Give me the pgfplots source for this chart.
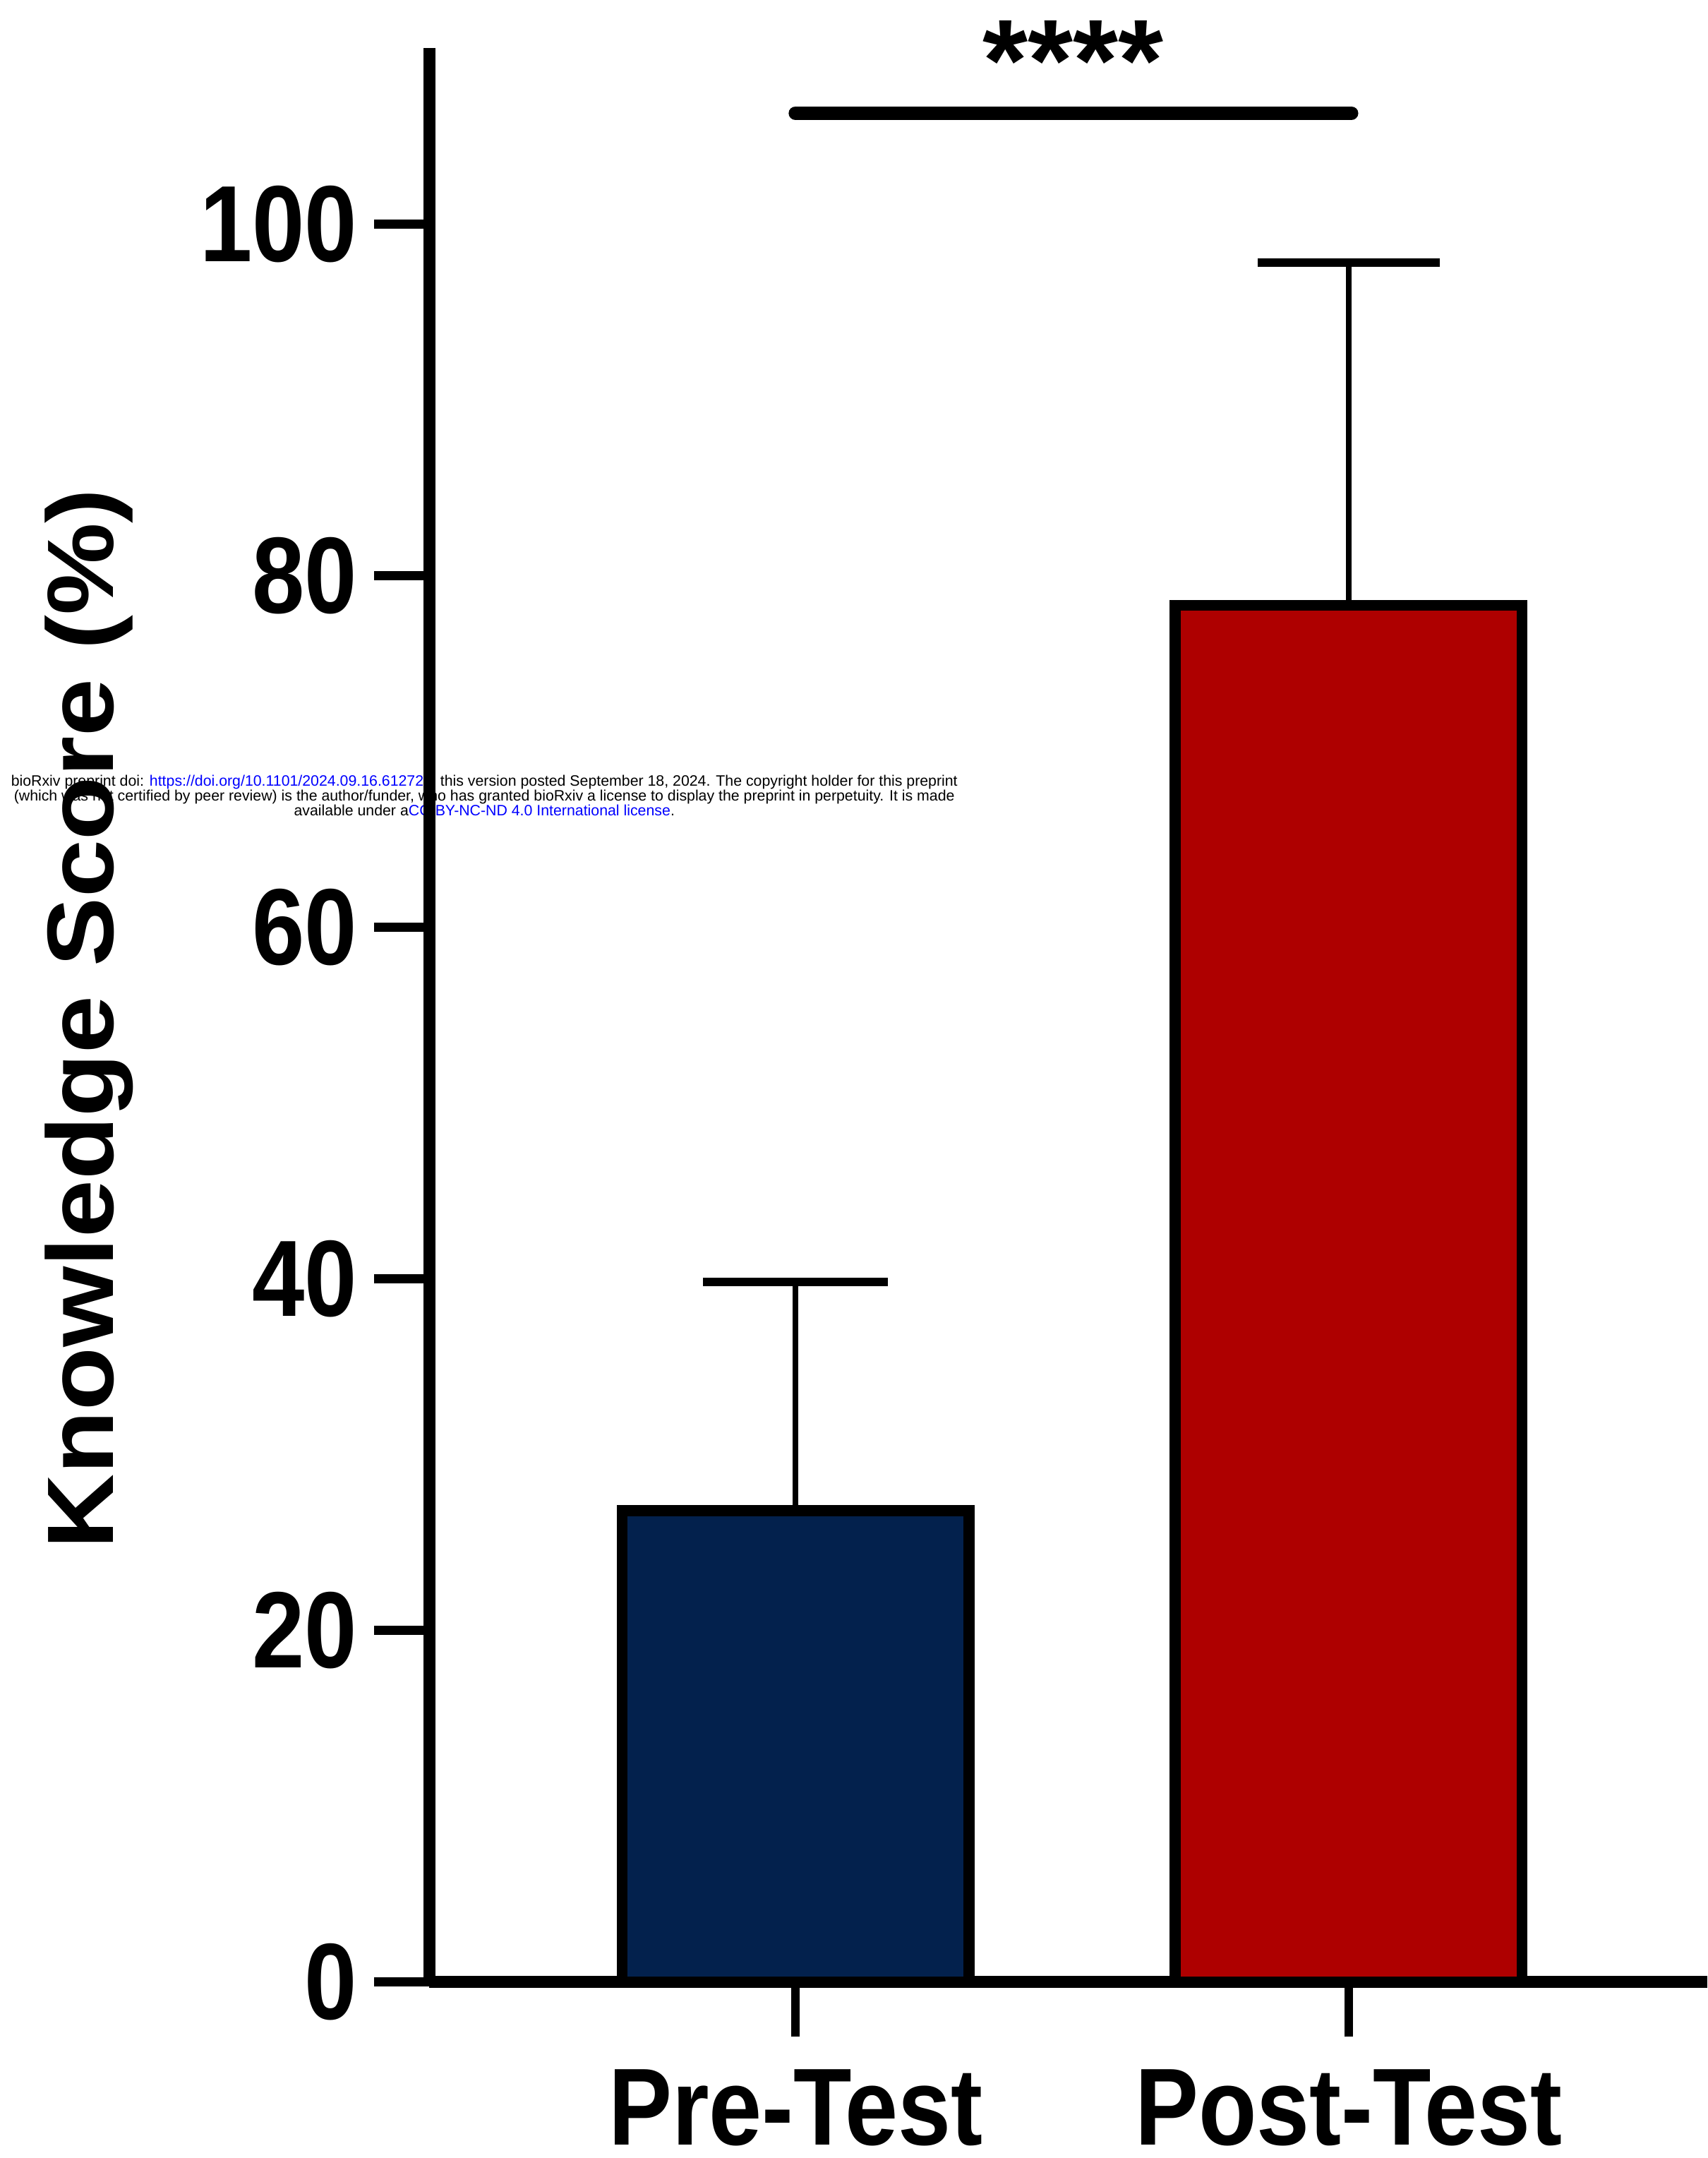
\documentclass[border=0pt]{standalone}
\usepackage{pgfplots}
\pgfplotsset{compat=1.18}
\usepackage{fontspec}
\setmainfont{Liberation Sans}
\definecolor{navy}{RGB}{3,33,77}
\definecolor{darkred}{RGB}{174,0,0}
\definecolor{linkblue}{RGB}{0,0,255}
\newcommand{\tl}[1]{\scalebox{1}[1.15]{#1}}
\begin{document}
\begin{tikzpicture}
% bioRxiv watermark (under the figure)
\node[align=center, font=\fontsize{3.11}{3.1}\selectfont, inner sep=0pt] at (4.0mm,86.2mm)
{bioRxiv preprint doi: \textcolor{linkblue}{https://doi.org/10.1101/2024.09.16.612729}; this version posted September 18, 2024. The copyright holder for this preprint\\
(which was not certified by peer review) is the author/funder, who has granted bioRxiv a license to display the preprint in perpetuity. It is made\\
available under a\textcolor{linkblue}{CC-BY-NC-ND 4.0 International license}.};
\begin{axis}[
  at={(0,0)}, anchor=south west,
  scale only axis,
  width=92.9mm, height=140.5mm,
  xmin=-0.662, xmax=1.649,
  ymin=0, ymax=110,
  axis x line=bottom, axis y line=left,
  axis line style={line width=0.9mm, -},
  xtick={0,1}, xticklabels={\tl{Pre-Test},\tl{Post-Test}},
  ytick={0,20,40,60,80,100},
  yticklabels={\tl{0},\tl{20},\tl{40},\tl{60},\tl{80},\tl{100}},
  tick align=outside,
  major tick length=4mm,
  tick style={line width=0.65mm, black},
  x tick label style={font=\fontsize{19.7}{20}\selectfont\bfseries, inner sep=0pt, yshift=-2.3mm},
  y tick label style={font=\fontsize{19.5}{20}\selectfont\bfseries},
  ylabel={\scalebox{1.1}[1]{Knowledge Score (\%)}},
  ylabel style={font=\fontsize{19.5}{20}\selectfont\bfseries, at={(axis description cs:-0.266,0.498)}, anchor=center},
  clip=false,
]
\addplot[ybar, bar shift=0pt, bar width=25.2mm, fill=navy, draw=black, line width=0.8mm,
  error bars/.cd, y dir=plus, y explicit,
  error bar style={line width=0.4mm, black},
  error mark options={rotate=90, line width=0.6mm, mark size=6.7mm, black}]
  coordinates {(0,26.8) +- (0,13.0)};
\addplot[ybar, bar shift=0pt, bar width=25.2mm, fill=darkred, draw=black, line width=0.8mm,
  error bars/.cd, y dir=plus, y explicit,
  error bar style={line width=0.4mm, black},
  error mark options={rotate=90, line width=0.6mm, mark size=6.6mm, black}]
  coordinates {(1,78.3) +- (0,19.5)};
\draw[line width=1mm, line cap=round] (axis cs:0,106.3) -- (axis cs:1.005,106.3);
\node[font=\fontsize{24}{24}\selectfont\bfseries, anchor=base, inner sep=0pt] at (axis cs:0.502,107.0) {****};
\end{axis}
\pgfresetboundingbox
\path[use as bounding box] (-31.2mm,-12.8mm) rectangle (92.9mm,144.0mm);
\end{tikzpicture}
\end{document}
